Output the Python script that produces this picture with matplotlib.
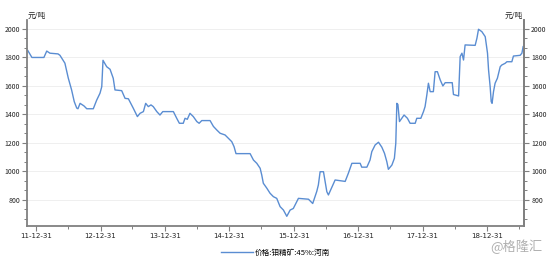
import matplotlib
matplotlib.use('Agg')
import matplotlib.pyplot as plt
import matplotlib.dates as mdates
from matplotlib.ticker import AutoMinorLocator, MultipleLocator
import pandas as pd

plt.rcParams['font.family'] = ['Noto Sans CJK SC', 'DejaVu Sans']

# 价格:钼精矿:45%:河南 (元/吨)
dates = [
    '2011-11-14', '2011-12-08', '2012-02-14', '2012-03-01', '2012-03-19', '2012-05-04',
    '2012-05-15', '2012-06-12', '2012-07-01', '2012-07-20', '2012-08-04', '2012-08-18',
    '2012-08-25', '2012-09-06', '2012-09-28', '2012-10-14', '2012-11-20', '2012-12-09',
    '2012-12-28', '2013-01-07', '2013-01-14', '2013-02-04', '2013-02-23', '2013-03-13',
    '2013-03-23', '2013-04-30', '2013-05-19', '2013-06-07', '2013-07-05', '2013-07-28',
    '2013-08-12', '2013-08-31', '2013-09-13', '2013-09-28', '2013-10-13', '2013-10-26',
    '2013-11-15', '2013-12-03', '2013-12-19', '2014-02-17', '2014-03-08', '2014-03-23',
    '2014-04-14', '2014-04-24', '2014-05-07', '2014-05-22', '2014-06-10', '2014-06-30',
    '2014-07-13', '2014-07-28', '2014-09-13', '2014-10-02', '2014-10-21', '2014-11-09',
    '2014-12-07', '2014-12-26', '2015-01-14', '2015-01-27', '2015-02-07', '2015-04-28',
    '2015-05-17', '2015-06-05', '2015-06-24', '2015-07-03', '2015-07-12', '2015-08-01',
    '2015-08-19', '2015-09-07', '2015-09-26', '2015-10-15', '2015-11-03', '2015-11-22',
    '2015-12-11', '2015-12-29', '2016-01-08', '2016-01-27', '2016-03-24', '2016-04-17',
    '2016-05-10', '2016-05-19', '2016-05-29', '2016-06-17', '2016-07-06', '2016-07-15',
    '2016-08-22', '2016-10-18', '2016-11-05', '2016-11-25', '2017-01-11', '2017-01-20',
    '2017-02-18', '2017-03-08', '2017-03-18', '2017-04-06', '2017-04-25', '2017-05-14',
    '2017-05-29', '2017-06-11', '2017-06-20', '2017-07-10', '2017-07-24', '2017-08-01',
    '2017-08-07', '2017-08-13', '2017-08-22', '2017-09-17', '2017-10-06', '2017-10-21',
    '2017-11-19', '2017-11-28', '2017-12-21', '2018-01-05', '2018-01-14', '2018-01-24',
    '2018-02-02', '2018-02-12', '2018-03-02', '2018-03-12', '2018-03-25', '2018-04-10',
    '2018-04-25', '2018-05-08', '2018-06-17', '2018-06-24', '2018-07-23', '2018-08-01',
    '2018-08-11', '2018-08-20', '2018-08-29', '2018-10-25', '2018-11-04', '2018-11-13',
    '2018-12-02', '2018-12-21', '2019-01-03', '2019-01-09', '2019-01-18', '2019-01-24',
    '2019-01-29', '2019-02-06', '2019-02-15', '2019-02-28', '2019-03-16', '2019-03-25',
    '2019-04-13', '2019-04-23', '2019-05-21', '2019-05-30', '2019-07-07', '2019-07-17',
    '2019-07-24',
]
prices = [
    1850, 1800, 1800, 1845, 1830, 1825,
    1815, 1760, 1656, 1572, 1490, 1445,
    1440, 1478, 1460, 1440, 1440, 1500,
    1549, 1595, 1780, 1735, 1717, 1654,
    1572, 1567, 1513, 1510, 1443, 1385,
    1408, 1420, 1478, 1455, 1467, 1455,
    1420, 1396, 1420, 1420, 1373, 1338,
    1338, 1373, 1366, 1408, 1385, 1350,
    1338, 1357, 1357, 1316, 1291, 1268,
    1256, 1233, 1209, 1174, 1125, 1125,
    1080, 1057, 1022, 975, 917, 882,
    847, 823, 811, 753, 729, 685,
    729, 740, 765, 811, 805, 775,
    860, 905, 998, 998, 858, 835,
    940, 930, 987, 1057, 1057, 1030,
    1030, 1080, 1139, 1186, 1205, 1170,
    1127, 1069, 1015, 1045, 1092, 1198,
    1478, 1470, 1350, 1396, 1373, 1338,
    1338, 1373, 1373, 1420, 1455, 1537,
    1619, 1560, 1560, 1700, 1700, 1642,
    1600, 1623, 1623, 1540, 1530, 1806,
    1830, 1782, 1888, 1885, 1935, 1998,
    1981, 1946, 1830, 1712, 1595, 1490,
    1478, 1560, 1619, 1654, 1735, 1747,
    1759, 1770, 1770, 1810, 1815, 1830,
    1876,
]
series_name = '价格:钼精矿:45%:河南'
unit = '元/吨'

x = pd.to_datetime(dates)
line_color = '#5a8dd2'
spine_color = '#808080'

fig = plt.figure(figsize=(5.54, 2.59), dpi=100)
ax = fig.add_axes([0.0487, 0.1274, 0.8975, 0.7954])
ax.plot(x, prices, color=line_color, lw=1.0, label=series_name)

ax.set_xlim(pd.Timestamp('2011-11-10'), pd.Timestamp('2019-07-30'))
ax.set_ylim(617, 2063)

ax.xaxis.set_major_locator(mdates.YearLocator(month=12, day=31))
ax.xaxis.set_minor_locator(mdates.MonthLocator(bymonth=[6], bymonthday=30))
ax.xaxis.set_major_formatter(mdates.DateFormatter('%y-%m-%d'))
ax.yaxis.set_major_locator(MultipleLocator(200))
ax.yaxis.set_minor_locator(AutoMinorLocator(3))

ax.grid(axis='y', which='major', color='#efefef', lw=0.7)
ax.set_axisbelow(True)

ax.spines['top'].set_visible(False)
for s in ['left', 'bottom', 'right']:
    ax.spines[s].set_color(spine_color)
    ax.spines[s].set_linewidth(1.3)

ax.tick_params(axis='both', which='major', direction='out', length=3.5, width=0.8,
               color=spine_color, labelsize=5, labelcolor='#222222', pad=1.5)
ax.tick_params(axis='both', which='minor', direction='out', length=2.2, width=0.7,
               color=spine_color)
for lbl in ax.get_xticklabels():
    lbl.set_fontfamily('DejaVu Sans')

ax2 = ax.twinx()
ax2.set_ylim(ax.get_ylim())
ax2.yaxis.set_major_locator(MultipleLocator(200))
ax2.yaxis.set_minor_locator(AutoMinorLocator(3))
for s in ['top', 'left', 'bottom']:
    ax2.spines[s].set_visible(False)
ax2.spines['right'].set_color(spine_color)
ax2.spines['right'].set_linewidth(1.3)
ax2.tick_params(axis='y', which='major', direction='out', length=3.5, width=0.8,
                color=spine_color, labelsize=5, labelcolor='#222222', pad=1.5)
ax2.tick_params(axis='y', which='minor', direction='out', length=2.2, width=0.7,
                color=spine_color)

fig.text(0.0505, 0.925, unit, fontsize=5.5, color='#222222', ha='left', va='bottom')
fig.text(0.944, 0.925, unit, fontsize=5.5, color='#222222', ha='right', va='bottom')

ax.legend(loc='upper center', bbox_to_anchor=(0.5, -0.095), frameon=False, fontsize=5.5,
          handlelength=4.2, handletextpad=0.3, borderaxespad=0)

fig.text(0.979, 0.048, '@格隆汇', fontsize=9.5, color='#b0b0b0', ha='right', va='center')

fig.savefig('out.png', dpi=100)
plt.close(fig)
